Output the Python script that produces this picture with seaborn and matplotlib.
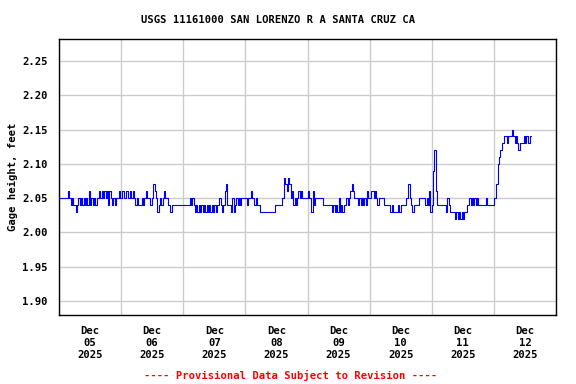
import numpy as np
import pandas as pd
import matplotlib
matplotlib.use("Agg")
import matplotlib.pyplot as plt
import matplotlib.dates as mdates
import seaborn as sns

# gage height (ft), one reading every 30 minutes, starting Dec 05 00:00
dec05 = [2.05, 2.05, 2.05, 2.05, 2.05, 2.05, 2.05, 2.06, 2.05, 2.04, 2.05, 2.04,
         2.04, 2.03, 2.04, 2.05, 2.04, 2.05, 2.04, 2.05, 2.04, 2.05, 2.04, 2.06,
         2.04, 2.05, 2.04, 2.05, 2.04, 2.05, 2.05, 2.06, 2.05, 2.06, 2.05, 2.06,
         2.05, 2.06, 2.04, 2.06, 2.05, 2.04, 2.05, 2.04, 2.05, 2.05, 2.06, 2.05]
dec06 = [2.05, 2.06, 2.05, 2.05, 2.06, 2.05, 2.05, 2.06, 2.05, 2.06, 2.05, 2.04,
         2.05, 2.04, 2.04, 2.04, 2.05, 2.04, 2.05, 2.06, 2.05, 2.05, 2.04, 2.04,
         2.05, 2.07, 2.06, 2.05, 2.03, 2.04, 2.05, 2.04, 2.05, 2.06, 2.05, 2.05,
         2.04, 2.04, 2.03, 2.04, 2.04, 2.04, 2.04, 2.04, 2.04, 2.04, 2.04, 2.04]
dec07 = [2.04, 2.04, 2.04, 2.04, 2.04, 2.05, 2.04, 2.05, 2.04, 2.03, 2.04, 2.03,
         2.04, 2.03, 2.04, 2.03, 2.04, 2.03, 2.04, 2.03, 2.04, 2.03, 2.04, 2.03,
         2.04, 2.03, 2.04, 2.04, 2.05, 2.04, 2.03, 2.04, 2.06, 2.07, 2.04, 2.04,
         2.04, 2.03, 2.05, 2.03, 2.04, 2.05, 2.04, 2.05, 2.04, 2.05, 2.05, 2.05]
dec08 = [2.05, 2.04, 2.05, 2.05, 2.06, 2.05, 2.05, 2.04, 2.05, 2.04, 2.04, 2.03,
         2.03, 2.03, 2.03, 2.03, 2.03, 2.03, 2.03, 2.03, 2.03, 2.03, 2.03, 2.04,
         2.04, 2.04, 2.04, 2.04, 2.05, 2.05, 2.08, 2.07, 2.06, 2.08, 2.07, 2.05,
         2.06, 2.04, 2.05, 2.04, 2.05, 2.06, 2.05, 2.06, 2.05, 2.05, 2.05, 2.05]
dec09 = [2.06, 2.05, 2.05, 2.03, 2.06, 2.04, 2.05, 2.05, 2.05, 2.05, 2.05, 2.05,
         2.04, 2.04, 2.04, 2.04, 2.04, 2.04, 2.04, 2.03, 2.04, 2.03, 2.04, 2.03,
         2.05, 2.03, 2.04, 2.03, 2.04, 2.04, 2.05, 2.04, 2.05, 2.06, 2.07, 2.06,
         2.05, 2.05, 2.05, 2.04, 2.05, 2.04, 2.05, 2.04, 2.05, 2.04, 2.06, 2.05]
dec10 = [2.05, 2.06, 2.06, 2.05, 2.06, 2.05, 2.04, 2.05, 2.05, 2.05, 2.05, 2.04,
         2.04, 2.04, 2.04, 2.04, 2.03, 2.04, 2.03, 2.03, 2.03, 2.03, 2.04, 2.03,
         2.04, 2.04, 2.04, 2.04, 2.05, 2.05, 2.07, 2.05, 2.04, 2.03, 2.04, 2.04,
         2.04, 2.04, 2.05, 2.05, 2.05, 2.05, 2.05, 2.04, 2.05, 2.04, 2.06, 2.03]
dec11 = [2.04, 2.09, 2.12, 2.06, 2.04, 2.04, 2.04, 2.04, 2.04, 2.04, 2.04, 2.03,
         2.05, 2.04, 2.03, 2.03, 2.03, 2.03, 2.02, 2.03, 2.02, 2.03, 2.02, 2.03,
         2.02, 2.03, 2.03, 2.04, 2.04, 2.05, 2.04, 2.05, 2.04, 2.05, 2.04, 2.05,
         2.04, 2.04, 2.04, 2.04, 2.04, 2.04, 2.05, 2.04, 2.04, 2.04, 2.04, 2.04]
dec12 = [2.05, 2.05, 2.07, 2.10, 2.11, 2.12, 2.13, 2.13, 2.14, 2.14, 2.13, 2.14,
         2.14, 2.14, 2.15, 2.14, 2.13, 2.14, 2.13, 2.12, 2.13, 2.13, 2.13, 2.14,
         2.13, 2.14, 2.13, 2.13, 2.14, 2.14]

day_labels = ["Dec\n05\n2025", "Dec\n06\n2025", "Dec\n07\n2025", "Dec\n08\n2025",
              "Dec\n09\n2025", "Dec\n10\n2025", "Dec\n11\n2025", "Dec\n12\n2025"]
y_ticks = [1.90, 1.95, 2.00, 2.05, 2.10, 2.15, 2.20, 2.25]

heights = dec05 + dec06 + dec07 + dec08 + dec09 + dec10 + dec11 + dec12
df = pd.DataFrame({
    "time": pd.date_range("2025-12-05 00:00", periods=len(heights), freq="30min"),
    "height": heights,
})

sns.set_style("white")
plt.rcParams["font.family"] = ["DejaVu Sans Mono"]
plt.rcParams["font.weight"] = "bold"
plt.rcParams["text.color"] = "black"
plt.rcParams["xtick.color"] = "black"
plt.rcParams["ytick.color"] = "black"
plt.rcParams["axes.labelcolor"] = "black"
fs = 7.6

fig = plt.figure(figsize=(5.76, 3.84), dpi=100)
ax = fig.add_axes([59 / 576, 1 - 315 / 384, 497 / 576, 276 / 384])

sns.lineplot(data=df, x="time", y="height", ax=ax, color="#0000ff",
             linewidth=0.8, estimator=None, drawstyle="steps-post")

start = pd.Timestamp("2025-12-05")
ax.set_xlim(start, start + pd.Timedelta(days=8))
ax.set_ylim(1.8795, 2.282)

day_edges = [start + pd.Timedelta(days=i) for i in range(9)]
day_noons = [start + pd.Timedelta(days=i, hours=12) for i in range(8)]
ax.set_xticks(day_edges)
ax.set_xticklabels([""] * len(day_edges))
ax.set_xticks(day_noons, minor=True)
ax.set_xticklabels(day_labels, minor=True, fontsize=fs, fontweight="bold",
                   linespacing=1.25)
ax.set_yticks(y_ticks)
ax.set_yticklabels([f"{v:.2f}" for v in y_ticks], fontsize=fs, fontweight="bold")
ax.tick_params(axis="both", which="both", length=0)
ax.tick_params(axis="x", which="minor", pad=8)
ax.tick_params(axis="y", pad=8)

ax.grid(True, which="major", color="#cccccc", linewidth=1)
ax.set_axisbelow(True)
for s in ax.spines.values():
    s.set_visible(True)
    s.set_color("black")
    s.set_linewidth(1)

ax.set_xlabel("")
ax.set_ylabel("Gage height, feet", fontsize=fs, fontweight="bold", labelpad=3)

fig.text(278 / 576, 1 - 20 / 384, "USGS 11161000 SAN LORENZO R A SANTA CRUZ CA",
         ha="center", va="center", fontsize=fs, fontweight="bold")
fig.text(291 / 576, 1 - 375 / 384, "---- Provisional Data Subject to Revision ----",
         ha="center", va="center", fontsize=fs, fontweight="bold", color="red")

fig.savefig("out.png", dpi=100)
